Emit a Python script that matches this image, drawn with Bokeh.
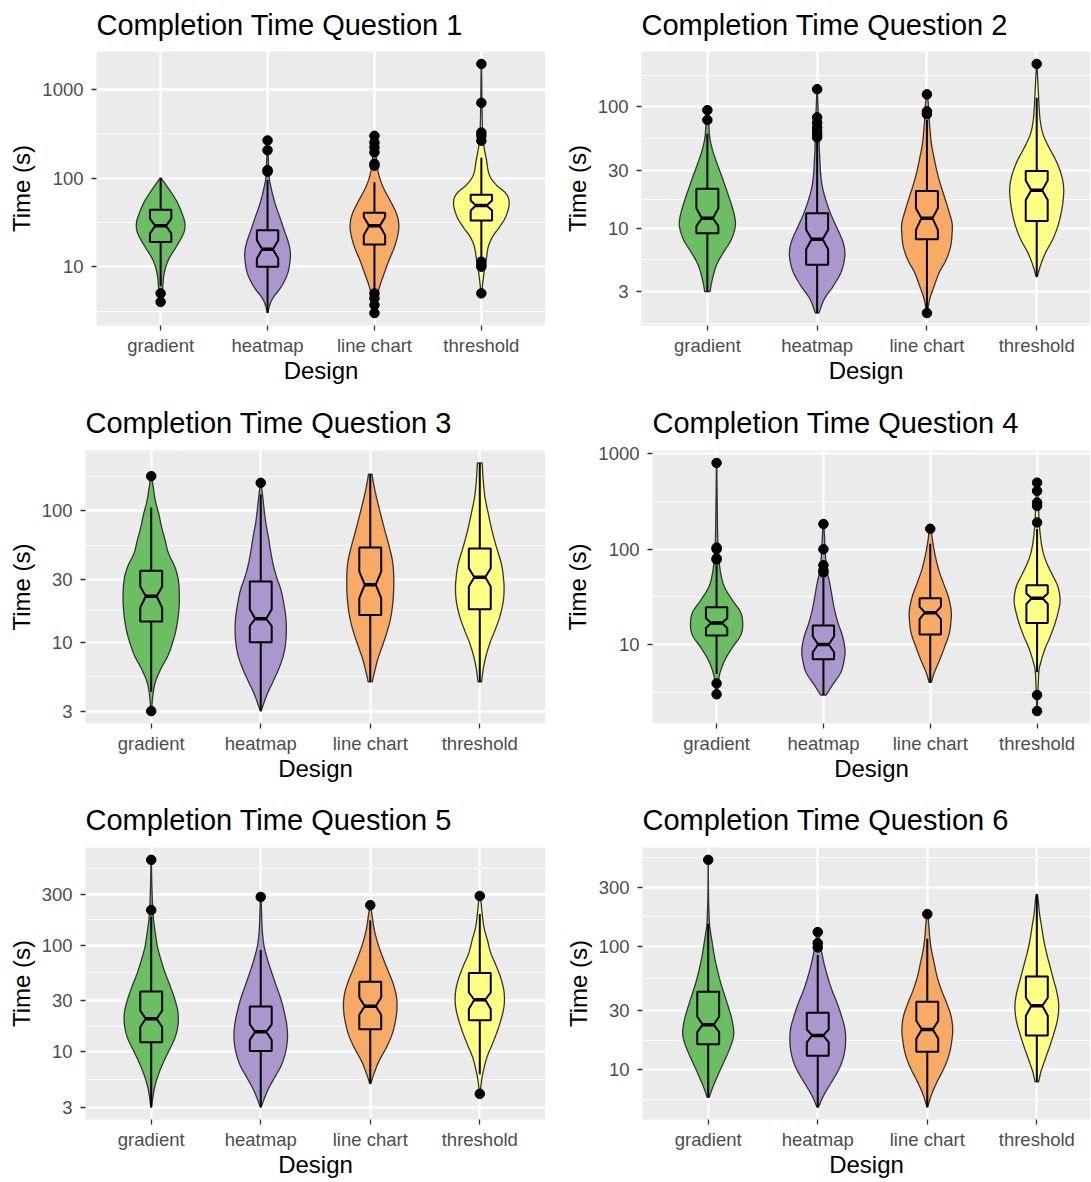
import numpy as np
from bokeh.plotting import figure
from bokeh.layouts import row, column
from bokeh.models import Range1d, FixedTicker, NumeralTickFormatter
from bokeh.embed import file_html
from bokeh.resources import INLINE

DESIGNS = ["gradient", "heatmap", "line chart", "threshold"]
COLORS = ["#6BBE61", "#AB96CD", "#F9AB66", "#FFFF86"]
TITLES = ["Completion Time Question 1", "Completion Time Question 2",
          "Completion Time Question 3", "Completion Time Question 4",
          "Completion Time Question 5", "Completion Time Question 6"]
X_LABEL = "Design"
Y_LABEL = "Time (s)"

Y_TICKS = [
    [10, 100, 1000],
    [3, 10, 30, 100],
    [3, 10, 30, 100],
    [10, 100, 1000],
    [3, 10, 30, 100, 300],
    [10, 30, 100, 300],
]

# box statistics, one row per question, one value per design
WHISKER_LOW = [[6, 3, 5.5, 12.5], [3, 2, 2.2, 4], [4.2, 3, 5, 5],
               [4.9, 2.95, 4, 5.1], [3, 3, 5, 6.1], [6, 5, 5, 8]]
BOX_Q1 = [[19, 10, 17.8, 33.3], [9.1, 5.0, 8.1, 11.5], [14.4, 10, 16.1, 17.8],
          [12.4, 7, 12.7, 16.8], [12.2, 10.1, 16.2, 19.6], [16.1, 13, 14, 19]]
MEDIAN = [[28.9, 15.7, 28.9, 49], [12.1, 8.1, 12.1, 20.6], [22.4, 15.1, 27.4, 31.2],
          [16.8, 10, 21.6, 30.6], [20.3, 15.3, 26.6, 30.6], [23.2, 19, 21.2, 33]]
BOX_Q3 = [[44, 25.8, 40.6, 64.7], [21.2, 13.3, 20.3, 29.6], [35, 29, 52.5, 51.6],
          [24.6, 15.8, 30.6, 42], [36.6, 26.4, 45.2, 54.7], [42.8, 29, 35.6, 57]]
WHISKER_HIGH = [[100, 95, 90, 170], [60, 52, 78, 119], [106, 133, 190, 231],
                [68, 50, 114, 164], [185, 90, 170, 196], [152, 85, 115, 262]]
NOTCH_LOW = [[23.7, 12.4, 22.7, 43], [10.4, 6.7, 9.7, 17.1], [18.3, 13.3, 21.7, 26.6],
             [14.9, 8.3, 18.5, 26.6], [17, 12.8, 22.1, 25.1], [20.2, 16.7, 17.9, 27.4]]
NOTCH_HIGH = [[34.8, 19.9, 36.4, 56], [14.6, 9.7, 14.6, 24.8], [26.6, 17.8, 34.5, 36.5],
              [18.9, 12.2, 25, 34.4], [24.2, 18, 32.2, 35.8], [27, 21.2, 25, 38.3]]

# outliers per design
Q1_OUTLIERS = [[5, 4], [118, 123, 206, 266],
               [5.0, 4.4, 3.7, 3.0, 138, 145, 195, 222, 252, 300],
               [5, 10, 10.4, 11.4, 264, 300, 327, 708, 1941]]
Q2_OUTLIERS = [[78, 94], [56, 59, 63, 68, 74, 82, 140], [2.0, 87, 92, 127], [226]]
Q3_OUTLIERS = [[3, 183], [163], [], []]
Q4_OUTLIERS = [[3.0, 3.9, 78, 80, 100, 104, 806], [57, 60, 68, 100, 184], [164],
               [2.0, 2.95, 191, 285, 309, 409, 500]]
Q5_OUTLIERS = [[213, 631], [283], [237], [4, 289]]
Q6_OUTLIERS = [[499], [97.7, 106, 130], [182], []]

# violin density profiles: time values and half-widths (in design units)
Q1_VIOLIN_TIME = [
    [4, 6, 8.4, 11.9, 16.8, 23.7, 30.6, 40, 56, 79, 100],
    [3, 4.2, 6, 8.4, 11.9, 15.4, 20, 25.8, 36.4, 51, 72, 100, 132, 266],
    [3, 4.2, 6, 8.4, 11.9, 16.8, 23.7, 30.6, 40, 56, 79, 111, 157, 222, 300],
    [5, 7, 10, 12.9, 16.8, 21.7, 28, 36.4, 51, 66, 86, 111, 157, 222, 312, 570, 1941],
]
Q1_VIOLIN_WIDTH = [
    [.01, .02, .033, .072, .146, .214, .227, .2, .146, .065, .005],
    [0, .039, .13, .188, .211, .211, .188, .156, .114, .072, .039, .016, .01, .003],
    [.003, .016, .049, .091, .137, .188, .221, .227, .205, .146, .081, .039, .02, .01, .003],
    [.003, .016, .033, .049, .065, .104, .169, .227, .26, .234, .13, .072, .049, .026, .013, .007, .002],
]
Q2_VIOLIN_TIME = [
    [3, 3.55, 4.86, 6.25, 8, 10.3, 12.5, 16, 20.6, 26.5, 34, 43.7, 56, 72, 94],
    [2, 2.6, 3.3, 4.3, 5.5, 6.6, 8, 10.3, 13.3, 17.1, 21.9, 28.1, 36.2, 46.5, 59.8, 77, 112, 140],
    [2, 2.6, 3.3, 4.3, 5.5, 7.1, 9.1, 11, 14.1, 18.2, 23.3, 30, 38.5, 49.5, 63.6, 81.7, 105, 127],
    [4, 4.86, 6.25, 8, 10.3, 13.3, 17.1, 21.9, 28.1, 36.2, 46.5, 59.8, 77, 99, 127, 163, 226],
]
Q2_VIOLIN_WIDTH = [
    [.025, .038, .079, .143, .216, .254, .248, .216, .175, .133, .089, .048, .022, .013, .003],
    [.016, .064, .143, .216, .248, .251, .229, .175, .121, .079, .048, .032, .025, .019, .019, .013, .006, .002],
    [.003, .025, .064, .111, .175, .216, .229, .229, .197, .159, .121, .089, .064, .041, .029, .019, .013, .003],
    [.006, .032, .079, .143, .191, .222, .241, .245, .222, .175, .111, .057, .032, .022, .016, .01, .002],
]
Q3_VIOLIN_TIME = [
    [3, 4, 5, 6.3, 7.9, 10, 12.6, 16.8, 22.4, 29.9, 37.6, 47.3, 59.6, 75, 94, 119, 150, 183],
    [3, 4, 5, 6.3, 7.9, 10, 12.6, 15.8, 20, 25.1, 31.6, 39.8, 50, 63, 79, 100, 126, 163],
    [5, 5.9, 7.5, 9.4, 11.9, 15, 20, 28.2, 39.8, 53, 70.8, 94, 126, 158, 190],
    [5, 6.3, 7.9, 10, 12.6, 15.8, 20, 25.1, 31.6, 39.8, 53, 70.8, 94, 126, 168, 231],
]
Q3_VIOLIN_WIDTH = [
    [.003, .016, .038, .089, .152, .196, .228, .25, .257, .247, .215, .158, .127, .095, .07, .038, .019, .003],
    [.003, .057, .111, .165, .206, .228, .234, .228, .209, .184, .143, .111, .089, .07, .048, .032, .019, .003],
    [.019, .038, .07, .111, .152, .184, .206, .215, .206, .174, .133, .095, .057, .032, .016],
    [.016, .032, .057, .095, .143, .184, .212, .222, .215, .196, .152, .111, .079, .048, .032, .022],
]
Q4_VIOLIN_TIME = [
    [2.95, 4, 5.1, 7, 9.6, 12.2, 15.5, 21.4, 29.4, 40.4, 55.5, 76, 105, 233, 806],
    [2.95, 3.7, 5.1, 7, 8.9, 12.2, 16.8, 23.1, 31.8, 43.8, 60, 83, 114, 157, 184],
    [4, 5.1, 7, 9.6, 13.2, 18.2, 23.1, 31.8, 43.8, 60, 83, 114, 164],
    [2, 2.9, 5.1, 6.4, 8.9, 12.2, 16.8, 23.1, 29.4, 40.4, 55.5, 76, 105, 156, 233, 347, 500],
]
Q4_VIOLIN_WIDTH = [
    [.003, .016, .033, .081, .156, .221, .244, .228, .146, .072, .039, .023, .013, .007, .002],
    [.026, .081, .163, .195, .202, .179, .137, .104, .081, .059, .033, .02, .013, .007, .002],
    [.01, .039, .091, .137, .179, .195, .195, .169, .124, .081, .049, .026, .007],
    [.002, .007, .016, .033, .072, .124, .169, .202, .215, .195, .137, .081, .046, .026, .016, .01, .002],
]
Q5_VIOLIN_TIME = [
    [3, 4.3, 5.7, 7.5, 10, 13.3, 17.6, 23.4, 31, 41, 54.7, 72.5, 96.3, 128, 170, 226, 370, 631],
    [3, 4.3, 5.7, 7.5, 10, 13.3, 17.6, 23.4, 31, 41, 54.7, 72.5, 96.3, 128, 170, 226, 283],
    [5, 6.1, 8.1, 10.7, 14.2, 18.9, 25.1, 33.3, 44.2, 58.7, 78, 103, 137, 182, 237],
    [4, 5.3, 6.5, 8.7, 11.5, 15.3, 20.3, 26.9, 35.8, 47.5, 63, 83.6, 111, 147, 196, 260, 289],
]
Q5_VIOLIN_WIDTH = [
    [.003, .025, .057, .101, .158, .215, .244, .244, .215, .174, .127, .089, .057, .038, .022, .013, .006, .002],
    [.003, .063, .127, .19, .228, .244, .238, .215, .184, .143, .101, .063, .032, .016, .01, .006, .002],
    [.005, .032, .079, .143, .196, .228, .244, .238, .206, .158, .111, .07, .038, .019, .003],
    [.002, .016, .032, .063, .111, .158, .196, .222, .222, .196, .152, .101, .07, .038, .022, .01, .002],
]
Q6_VIOLIN_TIME = [
    [6, 7.1, 9.1, 11.6, 14.9, 19, 24.2, 31, 39.5, 50.5, 64.5, 82.3, 105, 134, 160, 260, 499],
    [5, 6.3, 8, 10.3, 13.1, 16.8, 21.4, 27.4, 35, 44.7, 57, 72.8, 93, 111, 130],
    [5, 6.3, 8, 10.3, 13.1, 16.8, 21.4, 27.4, 35, 44.7, 57, 72.8, 93, 119, 152, 182],
    [8, 9.7, 12.4, 15.8, 20.2, 25.8, 33, 42, 53.7, 68.5, 87.5, 112, 143, 182, 233, 262],
]
Q6_VIOLIN_WIDTH = [
    [.01, .038, .089, .143, .197, .232, .222, .19, .152, .114, .083, .057, .038, .019, .01, .003, .001],
    [.006, .057, .127, .197, .238, .254, .248, .216, .175, .127, .089, .057, .032, .016, .006],
    [.003, .038, .089, .152, .197, .222, .232, .216, .175, .127, .089, .063, .038, .022, .013, .003],
    [.016, .038, .079, .121, .159, .19, .2, .184, .152, .121, .089, .063, .044, .025, .013, .006],
]

OUTLIERS = [Q1_OUTLIERS, Q2_OUTLIERS, Q3_OUTLIERS, Q4_OUTLIERS, Q5_OUTLIERS, Q6_OUTLIERS]
VIOLIN_TIME = [Q1_VIOLIN_TIME, Q2_VIOLIN_TIME, Q3_VIOLIN_TIME, Q4_VIOLIN_TIME, Q5_VIOLIN_TIME, Q6_VIOLIN_TIME]
VIOLIN_WIDTH = [Q1_VIOLIN_WIDTH, Q2_VIOLIN_WIDTH, Q3_VIOLIN_WIDTH, Q4_VIOLIN_WIDTH, Q5_VIOLIN_WIDTH, Q6_VIOLIN_WIDTH]

FONT = "Liberation Sans"

# layout: (width, height, border left, border top, border bottom, x range end, title standoff)
LAYOUT = [
    (545, 395, 96, 51, 70, 4.6, 17),
    (545, 395, 96, 51, 70, 4.49, 17),
    (545, 395, 85, 53, 67, 4.6, 19),
    (545, 395, 107, 55, 67, 4.5, 19),
    (545, 390, 85, 57, 58, 4.6, 19),
    (545, 390, 97, 57, 58, 4.49, 19),
]


def smooth_outline(times, widths, steps=8):
    lt = np.log10(np.asarray(times, dtype=float))
    w = np.asarray(widths, dtype=float)
    P = np.column_stack([lt, w])
    P = np.vstack([P[0], P, P[-1]])
    pts = []
    for i in range(1, len(P) - 2):
        p0, p1, p2, p3 = P[i - 1], P[i], P[i + 1], P[i + 2]
        for s in np.linspace(0, 1, steps, endpoint=False):
            s2, s3 = s * s, s * s * s
            pts.append(0.5 * (2 * p1 + (-p0 + p2) * s + (2 * p0 - 5 * p1 + 4 * p2 - p3) * s2
                              + (-p0 + 3 * p1 - 3 * p2 + p3) * s3))
    pts.append(P[-2])
    arr = np.array(pts)
    return 10 ** arr[:, 0], np.clip(arr[:, 1], 0, None)


def minor_ticks(ticks):
    lg = np.log10(ticks)
    ext = np.concatenate([[lg[0] - (lg[1] - lg[0])], lg, [lg[-1] + (lg[-1] - lg[-2])]])
    return list(10 ** ((ext[:-1] + ext[1:]) / 2))


def make_panel(k):
    width, height, bl, bt, bb, xhi, tso = LAYOUT[k]
    allvals = []
    for d in range(4):
        allvals += list(VIOLIN_TIME[k][d]) + list(OUTLIERS[k][d])
    lo, hi = np.log10(min(allvals)), np.log10(max(allvals))
    pad = 0.05 * (hi - lo)
    p = figure(width=width, height=height, x_range=Range1d(0.4, xhi),
               y_range=Range1d(10 ** (lo - pad), 10 ** (hi + pad)), y_axis_type="log",
               output_backend="svg", toolbar_location=None, title=TITLES[k],
               min_border_left=bl, min_border_right=0, min_border_top=bt, min_border_bottom=bb,
               background_fill_color="#EBEBEB", border_fill_color="white",
               outline_line_color=None)
    p.title.text_font = FONT
    p.title.text_font_size = "29px"
    p.title.text_font_style = "normal"
    p.title.text_color = "black"
    p.title.align = "left"
    p.title.vertical_align = "top"
    p.title.standoff = tso

    xt = FixedTicker(ticks=[1, 2, 3, 4])
    p.xaxis.ticker = xt
    p.xgrid.ticker = xt
    p.xaxis.major_label_overrides = {i + 1: DESIGNS[i] for i in range(4)}
    yt = FixedTicker(ticks=Y_TICKS[k], minor_ticks=minor_ticks(Y_TICKS[k]))
    p.yaxis.ticker = yt
    p.ygrid.ticker = yt
    p.yaxis.formatter = NumeralTickFormatter(format="0")

    for ax in (p.xaxis, p.yaxis):
        ax.axis_line_color = None
        ax.major_tick_line_color = "#333333"
        ax.major_tick_line_width = 1.3
        ax.major_tick_out = 5
        ax.major_tick_in = 0
        ax.minor_tick_line_color = None
        ax.major_label_text_font = FONT
        ax.major_label_text_font_size = "18.5px"
        ax.major_label_text_color = "#4D4D4D"
        ax.axis_label_text_font = FONT
        ax.axis_label_text_font_size = "24px"
        ax.axis_label_text_font_style = "normal"
        ax.axis_label_text_color = "black"
    p.xaxis.axis_label = X_LABEL
    p.yaxis.axis_label = Y_LABEL
    p.xaxis.major_label_standoff = 4
    p.xaxis.axis_label_standoff = -2
    p.yaxis.major_label_standoff = 8
    p.yaxis.axis_label_standoff = 4

    p.xgrid.grid_line_color = "white"
    p.xgrid.grid_line_width = 2.4
    p.ygrid.grid_line_color = "white"
    p.ygrid.grid_line_width = 2.4
    p.ygrid.minor_grid_line_color = "white"
    p.ygrid.minor_grid_line_width = 1.2

    bw, ind = 0.1, 0.05
    for d in range(4):
        c = d + 1
        t, w = smooth_outline(VIOLIN_TIME[k][d], VIOLIN_WIDTH[k][d])
        xs = np.concatenate([c + w, (c - w)[::-1]])
        ys = np.concatenate([t, t[::-1]])
        p.patch(xs, ys, fill_color=COLORS[d], line_color="#333333", line_width=1.3)

        q1, md, q3 = BOX_Q1[k][d], MEDIAN[k][d], BOX_Q3[k][d]
        nl, nh = NOTCH_LOW[k][d], NOTCH_HIGH[k][d]
        p.segment(x0=[c, c], y0=[q3, q1], x1=[c, c], y1=[WHISKER_HIGH[k][d], WHISKER_LOW[k][d]],
                  line_color="black", line_width=2)
        bx = [c - bw, c - bw, c - bw + ind, c - bw, c - bw, c + bw, c + bw, c + bw - ind, c + bw, c + bw]
        by = [q3, nh, md, nl, q1, q1, nl, md, nh, q3]
        p.patch(bx, by, fill_color=COLORS[d], line_color="black", line_width=2)
        p.segment(x0=[c - bw + ind], y0=[md], x1=[c + bw - ind], y1=[md],
                  line_color="black", line_width=3.5)
        outs = OUTLIERS[k][d]
        if outs:
            p.scatter(x=[c] * len(outs), y=outs, size=9.5, marker="circle",
                      fill_color="black", line_color="black")
    return p


panels = [make_panel(k) for k in range(6)]
layout = column(row(panels[0], panels[1]), row(panels[2], panels[3]), row(panels[4], panels[5]))

open("out.html", "w").write(file_html(layout, INLINE))
